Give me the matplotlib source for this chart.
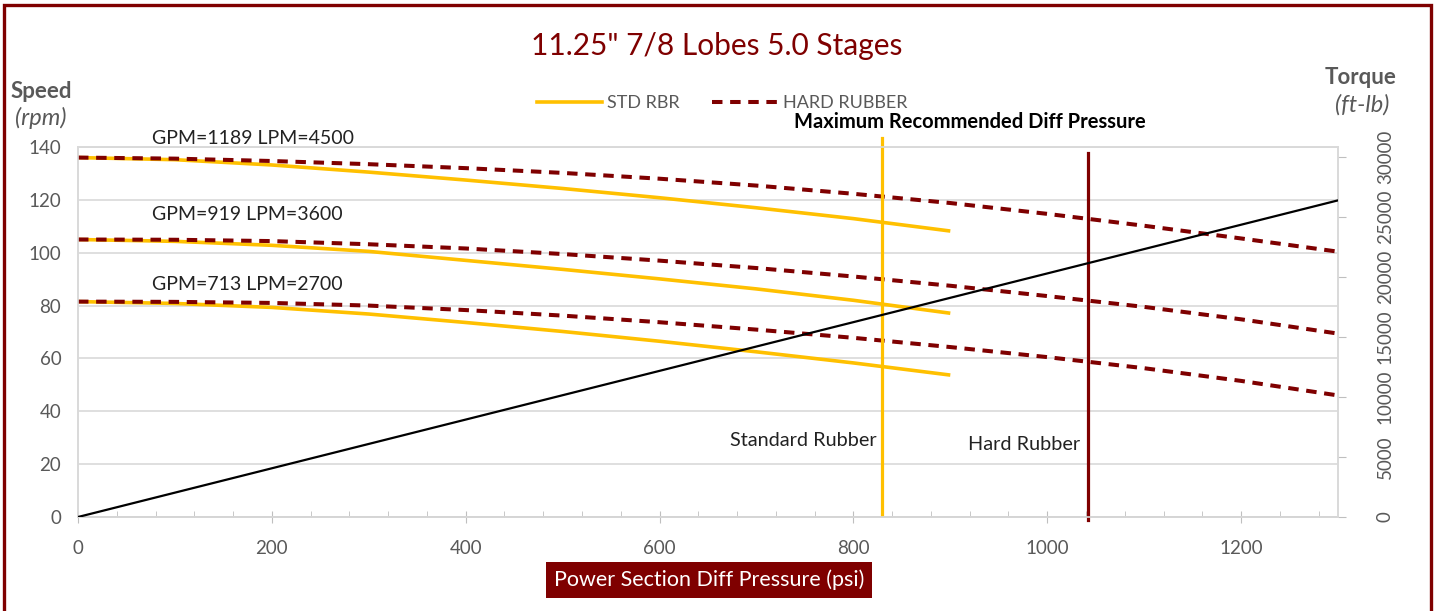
import matplotlib
matplotlib.use('Agg')
import matplotlib.pyplot as plt
from matplotlib.patches import Rectangle
from matplotlib.ticker import MultipleLocator

plt.rcParams['font.family'] = ['Lato', 'DejaVu Sans']

# data
std_psi = [0, 100, 200, 300, 400, 500, 600, 700, 800, 900]
hard_psi = [0, 100, 200, 300, 400, 500, 600, 700, 800, 900, 1000, 1100, 1200, 1300]

std_1189 = [136, 135.2, 133.2, 130.5, 127.5, 124.3, 120.8, 117, 112.9, 108.2]
std_919 = [105, 104.3, 102.8, 100.5, 97.1, 93.7, 90.1, 86.3, 82, 77.1]
std_713 = [81.5, 80.8, 79.3, 76.8, 73.6, 70.2, 66.5, 62.5, 58.3, 53.7]

hard_1189 = [136, 135.6, 134.7, 133.5, 132, 130.2, 128, 125.4, 122.3, 118.8, 114.7, 110.2, 105.4, 100.4]
hard_919 = [105, 104.9, 104.4, 103.2, 101.6, 99.5, 97, 94.2, 91, 87.5, 83.6, 79.5, 74.8, 69.4]
hard_713 = [81.5, 81.4, 81, 80, 78.3, 76.2, 73.7, 70.9, 67.8, 64.3, 60.5, 56.3, 51.5, 46]

flow_labels = ["GPM=1189 LPM=4500", "GPM=919 LPM=3600", "GPM=713 LPM=2700"]

torque_psi = [0, 1300]
torque = [0, 26400]

max_std = 830
max_hard = 1042

YEL = '#FFC000'
RED = '#7F0000'
GREY = '#595959'

W, H = 1437, 611
fig = plt.figure(figsize=(W / 100, H / 100), dpi=100)

def fx(px):
    return px / W

def fy(py):
    return 1 - py / H

ax = fig.add_axes([fx(78), fy(517), fx(1338) - fx(78), fy(147) - fy(517)])
ax2 = ax.twinx()

# curves
for s in [std_1189, std_919, std_713]:
    ax.plot(std_psi, s, color=YEL, lw=2.6, solid_capstyle='butt', zorder=3)
for s in [hard_1189, hard_919, hard_713]:
    ax.plot(hard_psi, s, color=RED, lw=2.9, dashes=(2.6, 1.9), zorder=4)

ax2.plot(torque_psi, torque, color='black', lw=1.6, zorder=5)

# max recommended pressure lines
ax.plot([max_std, max_std], [0.7, 143.4], color=YEL, lw=2.3, clip_on=False, zorder=6)
ax.plot([max_hard, max_hard], [-1.1, 137.7], color=RED, lw=2.3, clip_on=False, zorder=6)

ax.set_xlim(0, 1300)
ax.set_ylim(0, 140)
ax2.set_ylim(0, 30850)

ax.xaxis.set_major_locator(MultipleLocator(200))
ax.xaxis.set_minor_locator(MultipleLocator(40))
ax.yaxis.set_major_locator(MultipleLocator(20))
ax2.yaxis.set_major_locator(MultipleLocator(5000))

ax.grid(axis='y', color='#d9d9d9', lw=1.2)
ax.set_axisbelow(True)

for a in [ax, ax2]:
    for sp in a.spines.values():
        sp.set_color('#d9d9d9')
        sp.set_linewidth(1.2)
ax.spines['bottom'].set_color('#bfbfbf')

ax.tick_params(axis='x', which='major', direction='inout', length=9, color='#bfbfbf',
               labelsize=13.5, labelcolor=GREY, pad=12)
ax.tick_params(axis='x', which='minor', direction='in', length=4, color='#bfbfbf')
ax.tick_params(axis='y', length=0, labelsize=13.5, labelcolor=GREY, pad=12)
ax2.tick_params(axis='y', direction='out', length=6, color='#bfbfbf', labelsize=13.5,
                labelcolor=GREY, pad=22, labelrotation=90)
for lab in ax2.get_yticklabels():
    lab.set_va('center')

# title and axis titles
fig.text(fx(717), fy(46), '11.25" 7/8 Lobes 5.0 Stages', color=RED, fontsize=21.5,
         ha='center', va='center')
fig.text(fx(41), fy(91), 'Speed', color=GREY, fontsize=16, fontweight='bold',
         ha='center', va='center')
fig.text(fx(41), fy(118), '(rpm)', color=GREY, fontsize=17, fontstyle='italic',
         ha='center', va='center')
fig.text(fx(1361), fy(78), 'Torque', color=GREY, fontsize=16, fontweight='bold',
         ha='center', va='center')
fig.text(fx(1362), fy(105), '(ft-lb)', color=GREY, fontsize=17, fontstyle='italic',
         ha='center', va='center')

fig.text(fx(970), fy(122), 'Maximum Recommended Diff Pressure', color='black',
         fontsize=14.5, fontweight='bold', ha='center', va='center')

for lab, ypx in zip(flow_labels, [138, 214, 284]):
    fig.text(fx(152), fy(ypx), lab, color='#222222', fontsize=14, ha='left', va='center')

fig.text(fx(877), fy(441), 'Standard Rubber', color='#222222', fontsize=14.3,
         ha='right', va='center')
fig.text(fx(1080), fy(445), 'Hard Rubber', color='#222222', fontsize=14.3,
         ha='right', va='center')

fig.text(fx(709), fy(580), 'Power Section Diff Pressure (psi)', color='white',
         fontsize=15.5, ha='center', va='center',
         bbox=dict(boxstyle='square,pad=0.35', facecolor=RED, edgecolor='none'))

# legend
h1, = ax.plot([], [], color=YEL, lw=2.6)
h2, = ax.plot([], [], color=RED, lw=2.9, dashes=(2.6, 1.9))
fig.legend([h1, h2], ['STD RBR', 'HARD RUBBER'], loc='center', ncol=2,
           bbox_to_anchor=(fx(722), fy(103)), frameon=False, fontsize=13,
           handlelength=3.6, handletextpad=0.3, columnspacing=1.8, labelcolor=GREY)

# outer border
fig.patches.append(Rectangle((fx(4), -0.1), fx(1431) - fx(4), fy(5) + 0.1,
                             transform=fig.transFigure, fill=False,
                             edgecolor=RED, lw=2.4))

fig.savefig('out.png', dpi=100)
